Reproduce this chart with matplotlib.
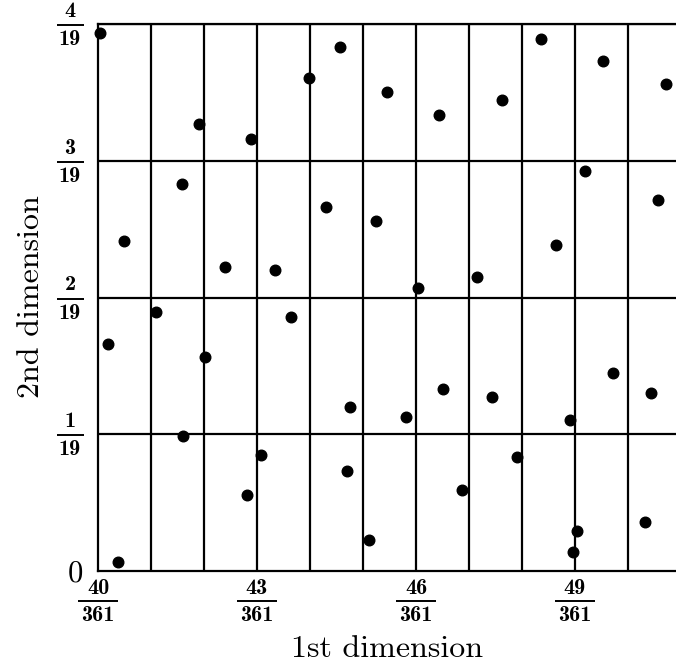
import matplotlib
matplotlib.use("Agg")
import matplotlib.pyplot as plt
import numpy as np

plt.rcParams['mathtext.fontset'] = 'cm'
plt.rcParams['font.family'] = ['cmr10', 'DejaVu Serif']
plt.rcParams['axes.formatter.use_mathtext'] = True

# point coordinates: x in units of 1/361, y in units of 1/19
x_num = [40.04, 41.91, 42.88, 41.59, 40.49, 42.39, 43.34, 44.57, 43.99, 45.46,
         46.43, 44.30, 45.25, 46.04, 47.15, 48.36, 49.52, 50.72, 47.62, 49.19,
         50.56, 48.65, 41.09, 40.18, 42.02, 43.65, 41.61, 43.08, 42.81, 40.38,
         44.75, 45.81, 46.50, 44.70, 46.87, 45.11, 49.71, 50.43, 47.44, 48.91,
         47.91, 50.33, 49.03, 48.97]
y_num = [3.936, 3.267, 3.159, 2.832, 2.415, 2.221, 2.199, 3.830, 3.603, 3.501,
         3.332, 2.664, 2.557, 2.072, 2.152, 3.893, 3.727, 3.559, 3.444, 2.925,
         2.715, 2.384, 1.892, 1.658, 1.565, 1.857, 0.987, 0.848, 0.554, 0.064,
         1.202, 1.124, 1.329, 0.733, 0.590, 0.224, 1.450, 1.299, 1.270, 1.104,
         0.831, 0.361, 0.293, 0.141]

x_den = 361
y_den = 19
x_tick_nums = [40, 43, 46, 49]
y_tick_nums = [1, 2, 3, 4]
v_lines_num = [41, 42, 43, 44, 45, 46, 47, 48, 49, 50, 51]
h_lines_num = [1, 2, 3, 4]

xs = np.array(x_num) / x_den
ys = np.array(y_num) / y_den

W, H = 676, 667
AX_L, AX_T, AX_B = 98, 24, 571
fig = plt.figure(figsize=(W/100, H/100), dpi=100)
ax = fig.add_axes([AX_L/W, 1 - AX_B/H, 1 - AX_L/W, (AX_B - AX_T)/H])
axW = W - AX_L
axH = AX_B - AX_T

for v in v_lines_num:
    ax.axvline(v / x_den, color='black', lw=1.6, zorder=1)
for h in h_lines_num:
    ax.axhline(h / y_den, color='black', lw=1.6, zorder=1)

ax.scatter(xs, ys, s=58, color='black', zorder=3, clip_on=False)

x_units_px = 53.0
ax.set_xlim(40 / x_den, (40 + axW / x_units_px) / x_den)
ax.set_ylim(0, 4 / y_den)

ax.set_xticks([])
ax.set_yticks([0])
ax.set_yticklabels(['0'], fontsize=22)
ax.tick_params(axis='both', length=0)
ax.tick_params(axis='y', pad=11)

for side in ['left', 'bottom', 'top']:
    ax.spines[side].set_linewidth(1.6)
ax.spines['right'].set_visible(False)

FS = 16
bold = 'cmb10'
xtr = ax.get_xaxis_transform()
ytr = ax.get_yaxis_transform()
ypx = (4 / y_den) / axH  # data units per pixel on y

# x fraction labels
for t in x_tick_nums:
    xd = t / x_den
    ax.text(xd, -23 / axH, str(t), transform=xtr, ha='center', va='baseline',
            fontfamily=bold, fontsize=FS, clip_on=False)
    half = 20 / x_units_px / x_den
    ax.plot([xd - half, xd + half], [-30 / axH] * 2, transform=xtr,
            color='black', lw=1.4, clip_on=False, solid_capstyle='butt')
    ax.text(xd, -50 / axH, str(x_den), transform=xtr, ha='center', va='baseline',
            fontfamily=bold, fontsize=FS, clip_on=False)

# y fraction labels
for t in y_tick_nums:
    yd = t / y_den
    cx = -28 / axW
    ax.text(cx, yd + 7 * ypx, str(t), transform=ytr, ha='center',
            va='baseline', fontfamily=bold, fontsize=FS, clip_on=False)
    ax.plot([cx - 13.5 / axW, cx + 13.5 / axW], [yd - 1 * ypx] * 2,
            transform=ytr, color='black', lw=1.4, clip_on=False, solid_capstyle='butt')
    ax.text(cx, yd - 21 * ypx, str(y_den), transform=ytr, ha='center',
            va='baseline', fontfamily=bold, fontsize=FS, clip_on=False)

fig.text((AX_L + W) / 2 / W, 1 - 657 / H, '1st dimension', ha='center', va='baseline',
         fontsize=23)
fig.text(31 / W, 1 - 297 / H, '2nd dimension', ha='center', va='center',
         rotation=90, fontsize=23)

fig.savefig('out.png', dpi=100)
